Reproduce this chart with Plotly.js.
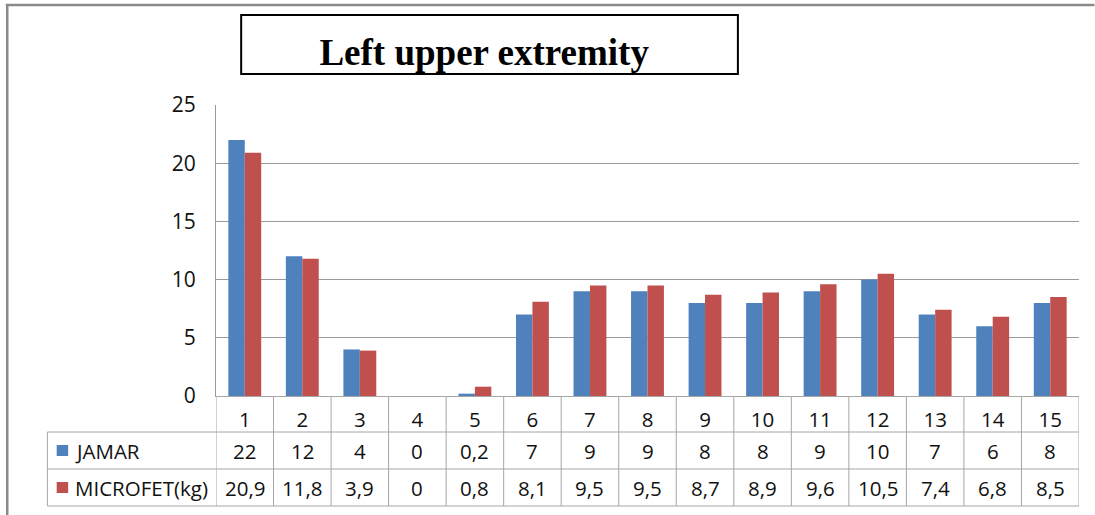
<!DOCTYPE html>
<html>
<head>
<meta charset="utf-8">
<script src="https://cdn.plot.ly/plotly-3.0.1.min.js"></script>
<style>
  html, body { margin: 0; padding: 0; background: #ffffff; }
  #chart { width: 1095px; height: 515px; }
</style>
</head>
<body>
<div id="chart"></div>
<script>
// Grip strength, left upper extremity: JAMAR dynamometer vs MICROFET (kg)
const categories = ['1', '2', '3', '4', '5', '6', '7', '8', '9', '10', '11', '12', '13', '14', '15'];
const jamar = [22, 12, 4, 0, 0.2, 7, 9, 9, 8, 8, 9, 10, 7, 6, 8];
const microfet = [20.9, 11.8, 3.9, 0, 0.8, 8.1, 9.5, 9.5, 8.7, 8.9, 9.6, 10.5, 7.4, 6.8, 8.5];
const seriesNames = ['JAMAR', 'MICROFET(kg)'];
const yTicks = [0, 5, 10, 15, 20, 25];
const titleText = 'Left upper extremity';

// page geometry (pixels)
const W = 1095, H = 515;
const L = 215.5, R = 1079.5, T = 105, B = 396;
const rowLines = [432, 469, 506];
const rowCenters = [450.5, 487.5];
const tableLeft = 46.7;
const colors = ['#4F81BD', '#C0504D'];
const gridColor = '#9a9a9a';
const tableColor = '#a6a6a6';
const textColor = '#111111';
const bodyFont = 'Open Sans, Lato, sans-serif';

const px = x => (x - L) / (R - L);
const py = y => (B - y) / (B - T);
const fmt = v => String(v).replace('.', ',');

const seriesValues = [jamar, microfet];

const traces = seriesValues.map((vals, i) => ({
  type: 'bar',
  name: seriesNames[i],
  x: categories,
  y: vals,
  marker: { color: colors[i], line: { width: 0 } },
  hoverinfo: 'x+y+name'
}));

const shapes = [];
// outer frame (top and left edges)
shapes.push({ type: 'line', xref: 'paper', yref: 'paper', x0: px(5), x1: px(W), y0: py(5), y1: py(5),
  line: { color: '#8a8a8a', width: 2.5 } });
shapes.push({ type: 'line', xref: 'paper', yref: 'paper', x0: px(6.5), x1: px(6.5), y0: py(5), y1: py(H),
  line: { color: '#8a8a8a', width: 2.5 } });
// title box
shapes.push({ type: 'rect', xref: 'paper', yref: 'paper', x0: px(240.7), x1: px(738), y0: py(15), y1: py(74),
  line: { color: '#000000', width: 2 }, fillcolor: '#ffffff', layer: 'below' });
// data table: horizontal rules
rowLines.forEach(y => {
  shapes.push({ type: 'line', xref: 'paper', yref: 'paper', x0: px(tableLeft), x1: 1, y0: py(y), y1: py(y),
    line: { color: tableColor, width: 1 } });
});
// data table: column separators on category boundaries
for (let k = 0; k <= categories.length; k++) {
  shapes.push({ type: 'line', xref: 'x', yref: 'paper', x0: k - 0.5, x1: k - 0.5, y0: 0, y1: py(rowLines[2]),
    line: { color: tableColor, width: 1 } });
}
// data table: left edge of the series label column
shapes.push({ type: 'line', xref: 'paper', yref: 'paper', x0: px(tableLeft), x1: px(tableLeft),
  y0: py(rowLines[0]), y1: py(rowLines[2]), line: { color: tableColor, width: 1 } });
// legend keys in the table
rowCenters.forEach((yc, i) => {
  shapes.push({ type: 'rect', xref: 'paper', yref: 'paper', x0: px(56), x1: px(67.5),
    y0: py(yc - 5.5), y1: py(yc + 5.5), line: { width: 0 }, fillcolor: colors[i] });
});

const annotations = [];
seriesNames.forEach((name, i) => {
  annotations.push({ xref: 'paper', yref: 'paper', x: px(72), y: py(rowCenters[i]),
    xanchor: 'left', yanchor: 'middle', text: name, showarrow: false,
    font: { family: bodyFont, size: 20.5, color: textColor } });
  seriesValues[i].forEach((v, k) => {
    // category axis: annotation position is the category index
    annotations.push({ xref: 'x', yref: 'paper', x: k, y: py(rowCenters[i]),
      xanchor: 'center', yanchor: 'middle', text: fmt(v), showarrow: false,
      font: { family: bodyFont, size: 20.5, color: textColor } });
  });
});

const layout = {
  width: W,
  height: H,
  margin: { l: L, r: W - R, t: T, b: H - B, pad: 0 },
  paper_bgcolor: '#ffffff',
  plot_bgcolor: '#ffffff',
  showlegend: false,
  barmode: 'group',
  bargap: 0.4286,
  bargroupgap: 0,
  title: {
    text: titleText,
    xref: 'paper', yref: 'paper',
    x: px(484), xanchor: 'center',
    y: py(48), yanchor: 'middle',
    font: { family: 'Liberation Serif, Times New Roman, serif', size: 37, weight: 'bold', color: '#000000' }
  },
  xaxis: {
    type: 'category',
    range: [-0.5, categories.length - 0.5],
    showgrid: false,
    zeroline: false,
    showline: true,
    linecolor: tableColor,
    linewidth: 1,
    ticks: '',
    ticklabelstandoff: 5,
    tickfont: { family: bodyFont, size: 20.5, color: textColor },
    fixedrange: true
  },
  yaxis: {
    range: [0, 25],
    tickvals: yTicks,
    ticktext: yTicks.map(String),
    showgrid: true,
    gridcolor: gridColor,
    gridwidth: 1,
    zeroline: false,
    showline: true,
    linecolor: gridColor,
    linewidth: 1,
    ticks: '',
    ticklabelstandoff: 15,
    tickfont: { family: bodyFont, size: 21, color: textColor },
    fixedrange: true
  },
  shapes: shapes,
  annotations: annotations
};

Plotly.newPlot('chart', traces, layout, { displayModeBar: false, staticPlot: true });
</script>
</body>
</html>
